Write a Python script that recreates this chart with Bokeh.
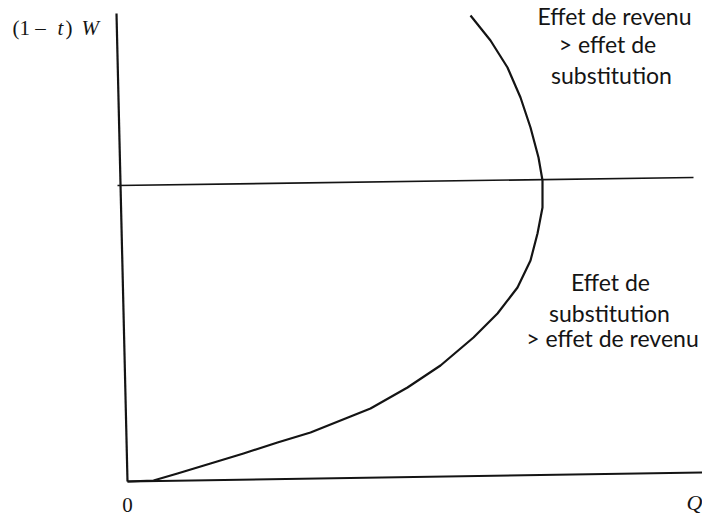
from bokeh.plotting import figure
from bokeh.embed import file_html
from bokeh.resources import INLINE
from bokeh.core.properties import value
from bokeh.models import ColumnDataSource

# Labour supply curve (backward-bending): hours Q vs net wage (1-t)W
curve_q = [0, 26, 50, 83, 116, 150, 183, 223, 243, 280, 313, 346, 370, 390, 403, 410, 415,
           415, 411, 403, 393, 380, 363, 343]
curve_w = [0, 1, 8, 18, 28, 39, 49, 65, 73, 94, 116, 144, 168, 194, 221, 248, 274,
           301, 324, 354, 384, 414, 441, 466]

# axes and the wage line where the curve bends back (as drawn on the scanned page)
yaxis_q = [0, -11]
yaxis_w = [0, 468]
xaxis_q = [0, 575]
xaxis_w = [0, 9]
wage_q = [-10, 566]
wage_w = [296, 304]

# annotation texts
upper_lines = ["Effet de revenu", "> effet de", "substitution"]
upper_x = [487, 480, 484]
upper_y = [466, 438, 407]
lower_lines = ["Effet de", "substitution", "> effet de revenu"]
lower_x = [483, 482, 485]
lower_y = [200, 169, 144]

p = figure(width=702, height=517, x_range=(-127, 575), y_range=(-36, 481),
           output_backend="svg", toolbar_location=None, min_border=0)
p.axis.visible = False
p.grid.visible = False
p.outline_line_color = None
p.background_fill_color = "white"
p.border_fill_color = "white"

ink = "#141414"
p.line(yaxis_q, yaxis_w, line_color=ink, line_width=2.2)
p.line(xaxis_q, xaxis_w, line_color=ink, line_width=2.0)
p.line(wage_q, wage_w, line_color=ink, line_width=1.6)
p.line(curve_q, curve_w, line_color=ink, line_width=2.2, line_join="round")

font = value("Lato")
p.text(x=upper_x, y=upper_y, text=upper_lines, text_align="center", text_baseline="alphabetic",
       text_font=font, text_font_size="23px", text_color=ink)
p.text(x=lower_x, y=lower_y, text=lower_lines, text_align="center", text_baseline="alphabetic",
       text_font=font, text_font_size="23px", text_color=ink)

serif = value("Liberation Serif")
lab_x = [-115, -70, -62, -46]
lab_txt = ["(1 \u2013", "t", ")", "W"]
lab_style = ["normal", "italic", "normal", "italic"]
src = ColumnDataSource(dict(x=lab_x, y=[454] * 4, t=lab_txt, s=lab_style))
p.text(x="x", y="y", text="t", text_font_style="s", source=src, text_align="left",
       text_baseline="alphabetic", text_font=serif, text_font_size="21px", text_color=ink)

p.text(x=[0], y=[-23], text=["0"], text_align="center", text_baseline="alphabetic",
       text_font=serif, text_font_size="21px", text_color=ink)
p.text(x=[559], y=[-21], text=["Q"], text_align="left", text_baseline="alphabetic",
       text_font=serif, text_font_style="italic", text_font_size="22px", text_color=ink)

open("out.html", "w").write(file_html(p, INLINE))
